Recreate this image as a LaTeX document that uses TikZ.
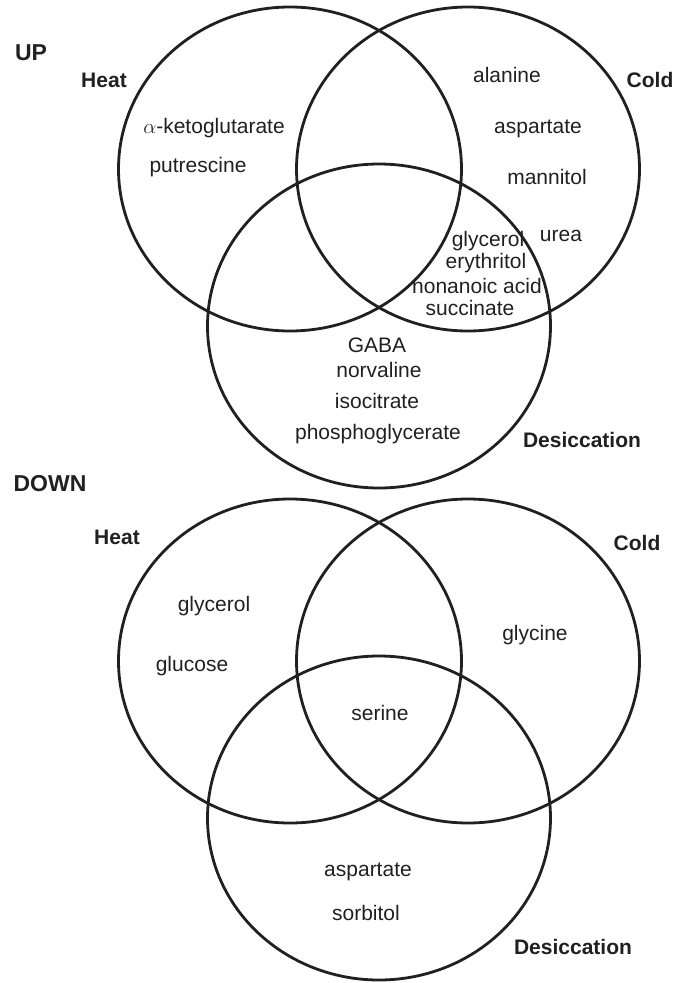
\documentclass[tikz,border=0pt]{standalone}
\usepackage{fontspec}
\setmainfont{Liberation Sans}
\usepackage{tikz}
\usetikzlibrary{shapes.geometric}
\definecolor{vnInk}{HTML}{231F20}

\begin{document}
\begin{tikzpicture}[x=1pt,y=-1pt,
  font=\fontsize{21}{25}\selectfont,text=vnInk,
  ring/.style={draw=vnInk,line width=2.8pt,ellipse,inner sep=0pt,
               minimum width=343pt,minimum height=324pt},
  tag/.style={font=\fontsize{21}{25}\selectfont\bfseries,inner sep=0pt},
  panel/.style={font=\fontsize{23}{27}\selectfont\bfseries,inner sep=0pt},
  item/.style={inner sep=0pt,text height=15pt,text depth=4pt}
]
\useasboundingbox (0,0) rectangle (686,983);

% UP
\node[panel] (up) at (31,53) {UP};
\node[ring] (heatU) at (290,169) {};
\node[ring] (coldU) at (468,169) {};
\node[ring] (desU)  at (379,326) {};
\node[tag] (heatUlbl) at (104,80)  {Heat};
\node[tag] (coldUlbl) at (650,80)  {Cold};
\node[tag] (desUlbl)  at (582,440) {Desiccation};

\node[item] (akg)  at (214,128) {$\alpha$-ketoglutarate};
\node[item] (put)  at (198,167) {putrescine};
\node[item] (alaU) at (507,77)  {alanine};
\node[item] (aspU) at (538,128) {aspartate};
\node[item] (man)  at (547,179) {mannitol};
\node[item] (urea) at (561,236) {urea};
\node[item] (glyU) at (488,241) {glycerol};
\node[item] (ery)  at (486,263) {erythritol};
\node[item] (non)  at (477,288) {nonanoic acid};
\node[item] (suc)  at (470,310) {succinate};
\node[item] (gaba) at (377,347) {GABA};
\node[item] (nor)  at (379,372) {norvaline};
\node[item] (iso)  at (377,403) {isocitrate};
\node[item] (pga)  at (378,434) {phosphoglycerate};

% DOWN
\node[panel] (down) at (50,484) {DOWN};
\node[ring] (heatD) at (290,661) {};
\node[ring] (coldD) at (468,661) {};
\node[ring] (desD)  at (379,818) {};
\node[tag] (heatDlbl) at (117,537) {Heat};
\node[tag] (coldDlbl) at (637,543) {Cold};
\node[tag] (desDlbl)  at (573,947) {Desiccation};

\node[item] (glyD) at (214,606) {glycerol};
\node[item] (glc)  at (192,666) {glucose};
\node[item] (gly)  at (535,635) {glycine};
\node[item] (ser)  at (380,715) {serine};
\node[item] (aspD) at (368,871) {aspartate};
\node[item] (sor)  at (366,915) {sorbitol};
\end{tikzpicture}
\end{document}
